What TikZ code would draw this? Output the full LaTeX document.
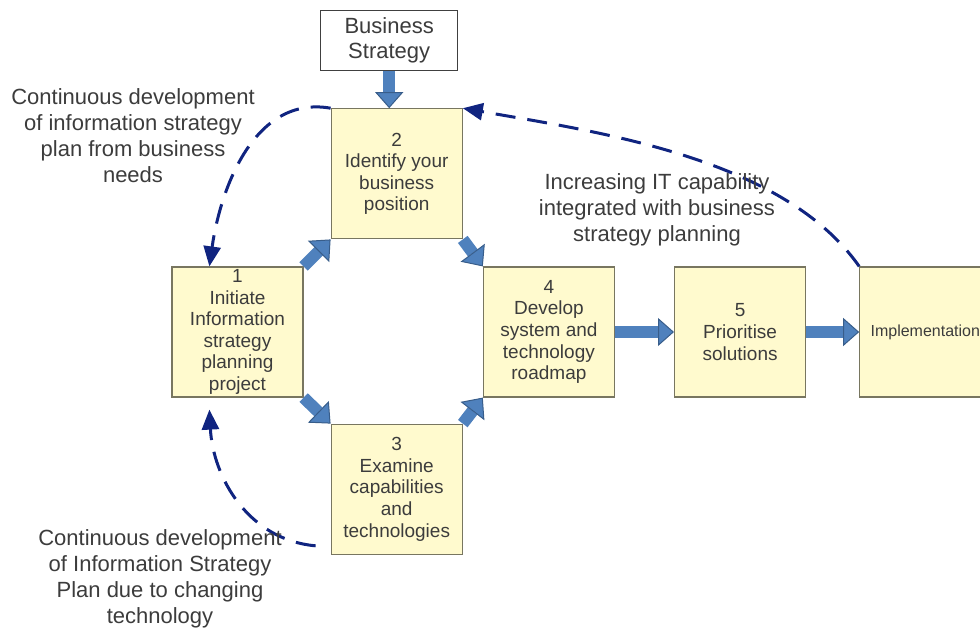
\documentclass[tikz,border=0pt]{standalone}
\usepackage{fontspec}
\setmainfont{Liberation Sans}
\usepackage{tikz}
\usetikzlibrary{positioning}
\usetikzlibrary{arrows.meta}
\usepackage{color}
\definecolor{boxfill}{RGB}{255,250,206}
\definecolor{boxline}{RGB}{120,118,96}
\definecolor{blkfill}{RGB}{79,129,189}
\definecolor{blkline}{RGB}{56,93,138}
\definecolor{backline}{RGB}{16,36,128}
\definecolor{txt}{RGB}{60,60,60}

\begin{document}
\begin{tikzpicture}
    [stage/.style={rectangle, draw=boxline, fill=boxfill, line width=0.6pt, minimum height=65pt, minimum width=65.5pt, inner xsep=2pt, inner ysep=0pt, align=center, text=txt, font=\fontsize{9.5}{10.8}\selectfont},
     driver/.style={rectangle, draw=black!75, fill=white, line width=0.6pt, minimum height=30pt, minimum width=68.5pt, inner ysep=2pt, align=center, text=txt, font=\fontsize{11}{12.5}\selectfont},
     note/.style={align=center, text=txt, font=\fontsize{11}{13}\selectfont},
     blk/.style={draw=blkfill, line width=6pt, -{Triangle[length=8pt, width=14pt, line width=0.5pt, color=blkline, fill=blkfill]}},
     blkd/.style={draw=blkfill, line width=6pt, -{Triangle[length=8.5pt, width=15pt, line width=0.5pt, color=blkline, fill=blkfill]}},
     feedback/.style={draw=backline, line width=1.5pt, dash pattern=on 10pt off 6pt, -{Triangle[length=10pt, width=8.5pt]}}]

    \useasboundingbox (0,0) rectangle (490pt,-314pt);

    \node [stage] (init) at (118.75pt,-166pt) {1\\Initiate\\Information\\strategy\\planning\\project};
    \node [stage, above right=13.5pt and 13.5pt of init] (ident) {2\\Identify your\\business\\position};
    \node [stage, below right=13pt and 13.5pt of init] (exam) {3\\Examine\\capabilities\\and\\technologies};
    \node [stage, below right=13.5pt and 10pt of ident] (road) {4\\Develop\\system and\\technology\\roadmap};
    \node [stage, right=29.5pt of road] (prio) {5\\Prioritise\\solutions};
    \node [stage, right=26.5pt of prio, font=\fontsize{8}{10}\selectfont] (impl) {Implementation};
    \node [driver, above=18.5pt of ident, xshift=-3.75pt] (biz) {Business\\Strategy};

    \draw [blk] (biz.south) -- (biz.south |- ident.north);
    \draw [blkd] (init.north east) -- (ident.south west);
    \draw [blkd] (ident.south east) -- (road.north west);
    \draw [blkd] (init.south east) -- (exam.north west);
    \draw [blkd] (exam.north east) -- (road.south west);
    \draw [blk] (road.east) -- (prio.west);
    \draw [blk] (prio.east) -- (impl.west);

    \draw [feedback] (ident.north west) to [out=170, in=82] ([xshift=19pt] init.north west);
    \draw [feedback] ([xshift=-7.5pt, yshift=4.5pt] exam.south west) to [out=175, in=-87] ([xshift=19pt, yshift=-6pt] init.south west);
    \draw [feedback] (impl.north west) to [out=125, in=-10, looseness=0.8] (ident.north east);

    \node [note] (needs) at (66.5pt,-68pt) {Continuous development\\of information strategy\\plan from business\\needs};
    \node [note] (capab) at (328.5pt,-105pt) {Increasing IT capability\\integrated with business\\strategy planning};
    \node [note] (techn) at (80pt,-289.5pt) {Continuous development\\of Information Strategy\\Plan due to changing\\technology};
\end{tikzpicture}
\end{document}
